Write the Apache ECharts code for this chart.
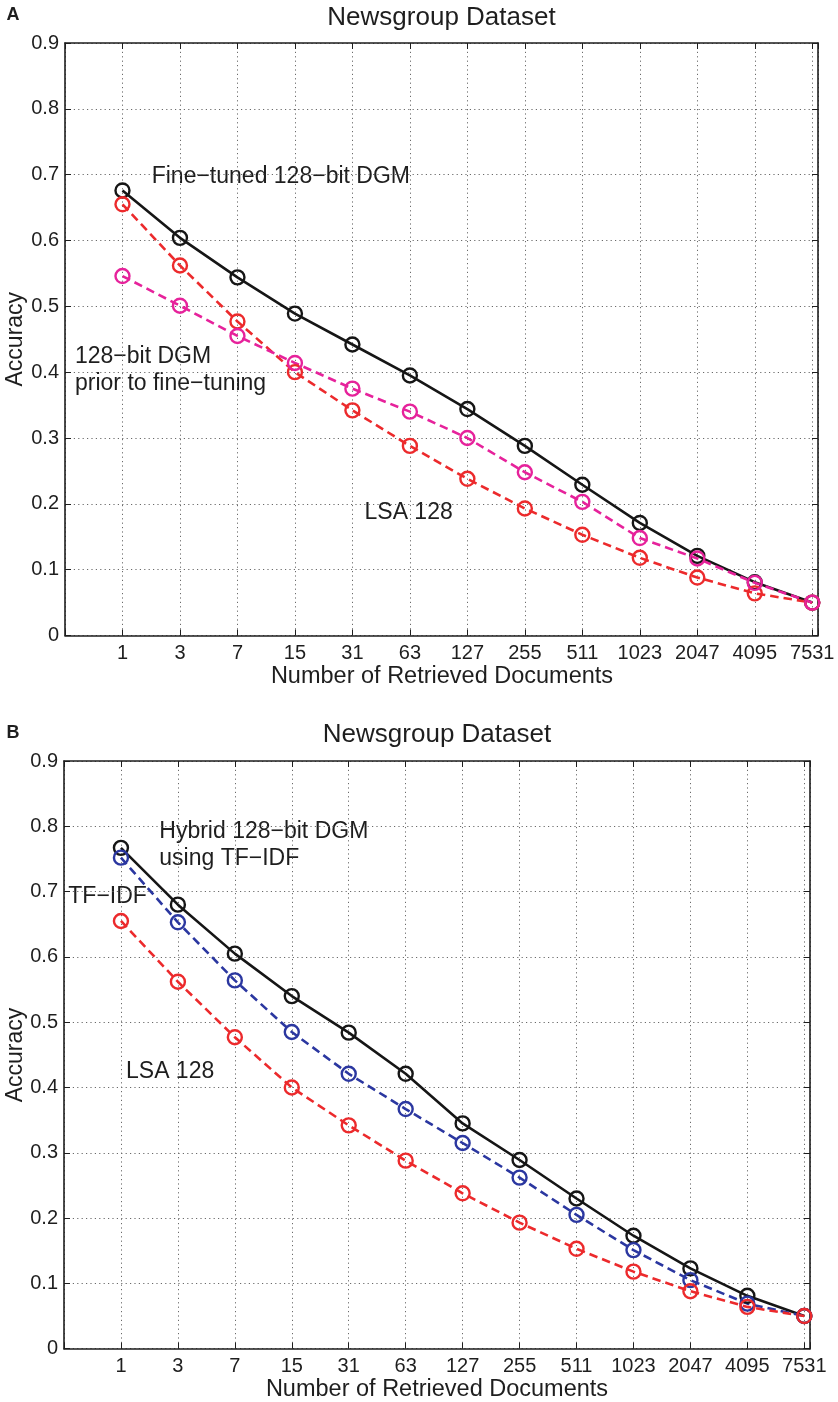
<!DOCTYPE html>
<html>
<head>
<meta charset="utf-8">
<title>Newsgroup Dataset</title>
<script src="https://cdn.jsdelivr.net/npm/echarts@6/dist/echarts.min.js"></script>
<style>
  html, body { margin: 0; padding: 0; background: #fff; }
  #chart { width: 838px; height: 1402px; }
</style>
</head>
<body>
<div id="chart"></div>
<script>
// Retrieval accuracy on the Newsgroup dataset vs. number of retrieved documents
const xLabels = ['1', '3', '7', '15', '31', '63', '127', '255', '511', '1023', '2047', '4095', '7531'];
const yTicks = [0, 0.1, 0.2, 0.3, 0.4, 0.5, 0.6, 0.7, 0.8, 0.9];

// Panel A
const fineTunedDGM = [0.676, 0.604, 0.544, 0.489, 0.442, 0.395, 0.344, 0.288, 0.229, 0.171, 0.121, 0.081, 0.050];
const lsa128 = [0.655, 0.562, 0.477, 0.400, 0.342, 0.288, 0.238, 0.193, 0.153, 0.118, 0.088, 0.064, 0.050];
const priorDGM = [0.546, 0.501, 0.455, 0.414, 0.375, 0.340, 0.300, 0.248, 0.203, 0.148, 0.117, 0.080, 0.050];

// Panel B
const hybridDGM = [0.767, 0.680, 0.605, 0.540, 0.484, 0.421, 0.345, 0.289, 0.230, 0.173, 0.123, 0.081, 0.050];
const tfidf = [0.752, 0.653, 0.564, 0.485, 0.421, 0.367, 0.315, 0.262, 0.205, 0.151, 0.105, 0.069, 0.050];

const FONT = '"Liberation Sans", Arial, Helvetica, sans-serif';
const INK = '#1e1e1e';
const BLACK = '#161616';
const RED = '#ec2a2c';
const MAGENTA = '#e6229b';
const BLUE = '#2b37a0';

const toPoints = arr => arr.map((v, i) => [i + 1, v]);

function xAxisPair(gridIndex) {
  const base = {
    gridIndex, type: 'value', min: 0, max: 13.1, interval: 1,
    axisLine: { show: true, onZero: false, lineStyle: { color: INK, width: 1.6 } },
    axisTick: { show: true, inside: true, length: 6, lineStyle: { color: INK, width: 1 } }
  };
  return [
    Object.assign({}, base, {
      position: 'bottom',
      axisLabel: {
        show: true, margin: 8, fontFamily: FONT, fontSize: 20, color: INK,
        formatter: v => (Number.isInteger(v) && v >= 1 && v <= xLabels.length) ? xLabels[v - 1] : ''
      },
      splitLine: { show: true, lineStyle: { color: '#6a6a6a', width: 1, type: [1.2, 3.2] } }
    }),
    Object.assign({}, base, {
      position: 'top',
      axisLabel: { show: false },
      splitLine: { show: false }
    })
  ];
}

function yAxisPair(gridIndex) {
  const base = {
    gridIndex, type: 'value', min: yTicks[0], max: yTicks[yTicks.length - 1], interval: 0.1,
    axisLine: { show: true, onZero: false, lineStyle: { color: INK, width: 1.6 } },
    axisTick: { show: true, inside: true, length: 6, lineStyle: { color: INK, width: 1 } }
  };
  return [
    Object.assign({}, base, {
      position: 'left',
      axisLabel: {
        show: true, margin: 6, fontFamily: FONT, fontSize: 20, color: INK,
        formatter: v => (Math.abs(v) < 1e-9 ? '0' : v.toFixed(1))
      },
      splitLine: { show: true, lineStyle: { color: '#6a6a6a', width: 1, type: [1.2, 3.2] } }
    }),
    Object.assign({}, base, {
      position: 'right',
      axisLabel: { show: false },
      splitLine: { show: false }
    })
  ];
}

function curve(name, data, color, dashed, xi, yi) {
  return {
    name, type: 'line', xAxisIndex: xi, yAxisIndex: yi,
    data: toPoints(data),
    symbol: 'circle', symbolSize: 14,
    itemStyle: { color: 'rgba(0,0,0,0)', borderColor: color, borderWidth: 2.4 },
    lineStyle: { color, width: 2.6, type: dashed ? [8.5, 5] : 'solid' },
    emphasis: { disabled: true },
    silent: true
  };
}

function label(text, x, y, opts) {
  return {
    type: 'text', x, y,
    rotation: (opts && opts.rotation) || 0,
    style: Object.assign({
      text, fill: INK, fontFamily: FONT, fontSize: 23,
      align: 'left', verticalAlign: 'middle'
    }, (opts && opts.style) || {})
  };
}

const xa = xAxisPair(0), xb = xAxisPair(1);
const ya = yAxisPair(0), yb = yAxisPair(1);

const option = {
  animation: false,
  backgroundColor: '#ffffff',
  grid: [
    { left: 65, top: 43, width: 753, height: 592.5, containLabel: false },
    { left: 64, top: 761, width: 746, height: 587.7, containLabel: false }
  ],
  xAxis: [xa[0], xa[1], xb[0], xb[1]],
  yAxis: [ya[0], ya[1], yb[0], yb[1]],
  series: [
    curve('Fine-tuned 128-bit DGM', fineTunedDGM, BLACK, false, 0, 0),
    curve('LSA 128', lsa128, RED, true, 0, 0),
    curve('128-bit DGM prior to fine-tuning', priorDGM, MAGENTA, true, 0, 0),
    curve('Hybrid 128-bit DGM using TF-IDF', hybridDGM, BLACK, false, 2, 2),
    curve('TF-IDF', tfidf, BLUE, true, 2, 2),
    curve('LSA 128', lsa128, RED, true, 2, 2)
  ],
  graphic: [
    // panel letters
    label('A', 6.5, 15, { style: { fontWeight: 'bold', fontSize: 18 } }),
    label('B', 6.5, 733, { style: { fontWeight: 'bold', fontSize: 18 } }),
    // titles
    label('Newsgroup Dataset', 441.5, 17.5, { style: { fontSize: 26, align: 'center' } }),
    label('Newsgroup Dataset', 437, 735, { style: { fontSize: 26, align: 'center' } }),
    // axis names
    label('Number of Retrieved Documents', 442, 676.7, { style: { align: 'center', fontSize: 23.5 } }),
    label('Number of Retrieved Documents', 437, 1390, { style: { align: 'center', fontSize: 23.5 } }),
    label('Accuracy', 16, 339.2, { rotation: Math.PI / 2, style: { align: 'center' } }),
    label('Accuracy', 16, 1055, { rotation: Math.PI / 2, style: { align: 'center' } }),
    // curve annotations, panel A
    label('Fine\u2212tuned 128\u2212bit DGM', 151.7, 176.2),
    label('128\u2212bit DGM', 75, 356.2),
    label('prior to fine\u2212tuning', 75, 383.9),
    label('LSA 128', 364.5, 512.8),
    // curve annotations, panel B
    label('Hybrid 128\u2212bit DGM', 159.3, 831.7),
    label('using TF\u2212IDF', 159.3, 859),
    label('TF\u2212IDF', 68.3, 897),
    label('LSA 128', 126, 1071.2)
  ]
};

const chart = echarts.init(document.getElementById('chart'), null, { renderer: 'canvas', width: 838, height: 1402 });
chart.setOption(option);
</script>
</body>
</html>
